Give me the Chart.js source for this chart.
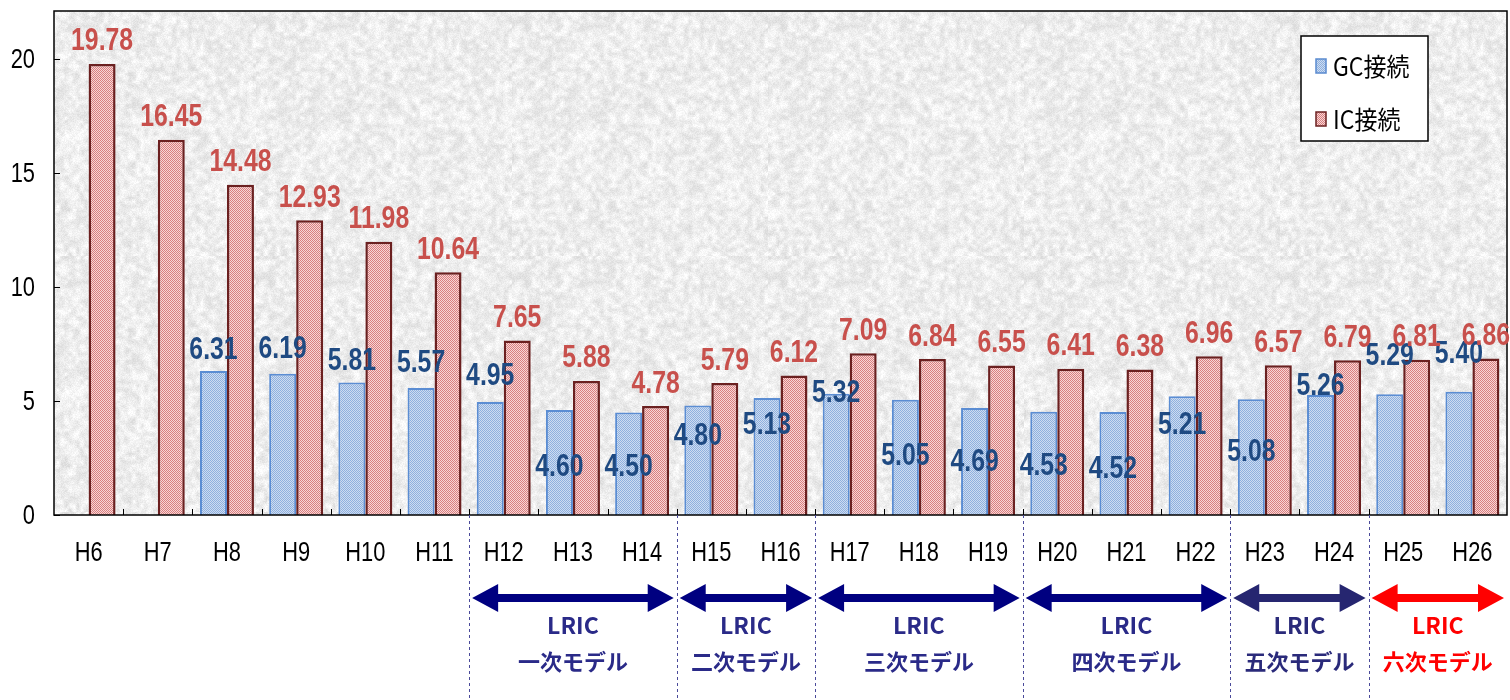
<!DOCTYPE html>
<html>
<head>
<meta charset="utf-8">
<script src="https://cdn.jsdelivr.net/npm/chart.js@4.4.0/dist/chart.umd.min.js"></script>
<style>
  html, body { margin: 0; padding: 0; background: #fff; }
</style>
</head>
<body>
<canvas id="chart" width="1510" height="700"></canvas>
<script>
// Datos del gráfico
const years = ['H6', 'H7', 'H8', 'H9', 'H10', 'H11', 'H12', 'H13', 'H14', 'H15', 'H16',
               'H17', 'H18', 'H19', 'H20', 'H21', 'H22', 'H23', 'H24', 'H25', 'H26'];
const gcValues = [null, null, 6.31, 6.19, 5.81, 5.57, 4.95, 4.60, 4.50, 4.80, 5.13,
                  5.32, 5.05, 4.69, 4.53, 4.52, 5.21, 5.08, 5.26, 5.29, 5.40];
const icValues = [19.78, 16.45, 14.48, 12.93, 11.98, 10.64, 7.65, 5.88, 4.78, 5.79, 6.12,
                  7.09, 6.84, 6.55, 6.41, 6.38, 6.96, 6.57, 6.79, 6.81, 6.86];
const yTicks = [0, 5, 10, 15, 20];
const seriesNames = ['GC接続', 'IC接続'];

// Periodos del modelo LRIC
const modelTitle = 'LRIC';
const modelNames = ['一次モデル', '二次モデル', '三次モデル', '四次モデル', '五次モデル', '六次モデル'];
const modelStart = ['H12', 'H15', 'H17', 'H20', 'H23', 'H25'];
const modelEnd = ['H14', 'H16', 'H19', 'H22', 'H24', 'H26'];

const SANS = '"Liberation Sans", "DejaVu Sans", sans-serif';
const GOTHIC = '"Noto Sans CJK JP", "DejaVu Sans", sans-serif';

const canvas = document.getElementById('chart');
const ctx = canvas.getContext('2d');

// Texto comprimido horizontalmente (fuente estrecha)
function narrowText(c, text, x, y, sx) {
    c.save();
    c.translate(x, y);
    c.scale(sx, 1);
    c.fillText(text, 0, 0);
    c.restore();
}

// Patrón a cuadros para las barras
function checker(c1, c2) {
    const p = document.createElement('canvas');
    p.width = 2; p.height = 2;
    const g = p.getContext('2d');
    g.fillStyle = c1; g.fillRect(0, 0, 2, 2);
    g.fillStyle = c2; g.fillRect(0, 0, 1, 1); g.fillRect(1, 1, 1, 1);
    return ctx.createPattern(p, 'repeat');
}

// Textura gris del fondo (hash determinista)
function hash(i, j) {
    let h = Math.imul(i, 374761393) + Math.imul(j, 668265263);
    h = Math.imul(h ^ (h >>> 13), 1274126177);
    h ^= h >>> 16;
    return (h >>> 0) / 4294967296;
}
function makeTexture() {
    const size = 256;
    const small = document.createElement('canvas');
    small.width = 64; small.height = 64;
    const sg = small.getContext('2d');
    for (let i = 0; i < 64; i++) {
        for (let j = 0; j < 64; j++) {
            const v = Math.round(222 + hash(i, j) * 32);
            sg.fillStyle = `rgb(${v},${v},${v})`;
            sg.fillRect(i, j, 1, 1);
        }
    }
    const big = document.createElement('canvas');
    big.width = size; big.height = size;
    const bg = big.getContext('2d');
    bg.imageSmoothingEnabled = true;
    bg.drawImage(small, 0, 0, size, size);
    const img = bg.getImageData(0, 0, size, size);
    for (let k = 0; k < img.data.length; k += 4) {
        const p = k / 4;
        const n = (hash(p % size + 1000, Math.floor(p / size) + 2000) - 0.5) * 16;
        img.data[k] += n; img.data[k + 1] += n; img.data[k + 2] += n;
    }
    bg.putImageData(img, 0, 0);
    return ctx.createPattern(big, 'repeat');
}

const gcFill = checker('#cddcf1', '#8fb0de');
const icFill = checker('#f7d6d6', '#d97f7f');
const bgTexture = makeTexture();

// Fondo, marco, marcas y etiquetas de los ejes
const plotFrame = {
    id: 'plotFrame',
    beforeDatasetsDraw(chart) {
        const a = chart.chartArea, c = chart.ctx;
        c.save();
        c.fillStyle = bgTexture;
        c.fillRect(a.left, a.top, a.right - a.left, a.bottom - a.top);
        c.restore();
    },
    afterDatasetsDraw(chart) {
        const a = chart.chartArea, c = chart.ctx;
        const x = chart.scales.x, y = chart.scales.y;
        c.save();
        c.strokeStyle = '#000';
        c.lineWidth = 1.5;
        c.strokeRect(a.left, a.top, a.right - a.left, a.bottom - a.top);
        c.lineWidth = 1;
        c.fillStyle = '#000';
        c.textBaseline = 'middle';
        // eje Y
        c.font = '28px ' + SANS;
        c.textAlign = 'right';
        yTicks.forEach(v => {
            const py = Math.round(y.getPixelForValue(v)) + 0.5;
            c.beginPath(); c.moveTo(a.left, py); c.lineTo(a.left + 6, py); c.stroke();
            narrowText(c, String(v), a.left - 19, py + 1, 0.78);
        });
        // eje X
        for (let i = 1; i < years.length; i++) {
            const px = Math.round((x.getPixelForValue(i - 1) + x.getPixelForValue(i)) / 2) + 0.5;
            c.beginPath(); c.moveTo(px, a.bottom); c.lineTo(px, a.bottom - 6); c.stroke();
        }
        c.textAlign = 'center';
        years.forEach((lab, i) => {
            narrowText(c, lab, x.getPixelForValue(i), 553, 0.78);
        });
        c.restore();
    }
};

// Etiquetas de valores
const barLabels = {
    id: 'barLabels',
    afterDatasetsDraw(chart, args, opts) {
        const c = chart.ctx;
        c.save();
        c.font = 'bold 31px ' + SANS;
        c.textAlign = 'center';
        c.textBaseline = 'middle';
        chart.data.datasets.forEach((ds, di) => {
            chart.getDatasetMeta(di).data.forEach((bar, i) => {
                const v = ds.data[i];
                if (v == null) return;
                const shift = di === 0 ? opts.gcShift[i] : -22;
                c.fillStyle = di === 0 ? '#1F4A82' : '#C8504C';
                narrowText(c, v.toFixed(2), bar.x, bar.y + shift, 0.8);
            });
        });
        c.restore();
    }
};

// Leyenda dentro del gráfico
const boxLegend = {
    id: 'boxLegend',
    afterDraw(chart) {
        const c = chart.ctx;
        c.save();
        c.fillStyle = '#ffffff';
        c.fillRect(1301, 36, 127, 105);
        c.strokeStyle = '#000';
        c.lineWidth = 1.5;
        c.strokeRect(1301, 36, 127, 105);
        const rows = [66, 119];
        const fills = [gcFill, icFill];
        const borders = ['#5A8ACF', '#6B2020'];
        chart.data.datasets.forEach((ds, i) => {
            c.fillStyle = fills[i];
            c.fillRect(1316, rows[i] - 7, 10, 14);
            c.strokeStyle = borders[i];
            c.lineWidth = 1.5;
            c.strokeRect(1316, rows[i] - 7, 10, 14);
            c.fillStyle = '#000';
            c.font = '25px ' + GOTHIC;
            c.textBaseline = 'middle';
            c.textAlign = 'left';
            narrowText(c, ds.label, 1333, rows[i], 0.92);
        });
        c.restore();
    }
};

// Flechas de los periodos LRIC
function drawArrow(c, x1, x2, y, color) {
    const head = 26, hh = 14, sh = 4;
    c.fillStyle = color;
    c.beginPath();
    c.moveTo(x1, y);
    c.lineTo(x1 + head, y - hh);
    c.lineTo(x1 + head, y - sh);
    c.lineTo(x2 - head, y - sh);
    c.lineTo(x2 - head, y - hh);
    c.lineTo(x2, y);
    c.lineTo(x2 - head, y + hh);
    c.lineTo(x2 - head, y + sh);
    c.lineTo(x1 + head, y + sh);
    c.lineTo(x1 + head, y + hh);
    c.closePath();
    c.fill();
}

const modelArrows = {
    id: 'modelArrows',
    afterDraw(chart, args, opts) {
        const c = chart.ctx, x = chart.scales.x, a = chart.chartArea;
        const half = (x.getPixelForValue(1) - x.getPixelForValue(0)) / 2;
        c.save();
        modelNames.forEach((name, k) => {
            const s = years.indexOf(modelStart[k]);
            const e = years.indexOf(modelEnd[k]);
            const left = x.getPixelForValue(s) - half;
            const right = Math.min(x.getPixelForValue(e) + half, a.right);
            const color = opts.colors[k];
            // línea punteada
            c.strokeStyle = '#4A4A9A';
            c.lineWidth = 1;
            c.setLineDash([3, 3]);
            c.beginPath();
            c.moveTo(Math.round(left) + 0.5, a.bottom);
            c.lineTo(Math.round(left) + 0.5, 700);
            c.stroke();
            c.setLineDash([]);
            drawArrow(c, left + 3, right - 3, 598, color);
            const mid = (left + right) / 2;
            c.fillStyle = opts.textColors[k];
            c.textAlign = 'center';
            c.textBaseline = 'middle';
            c.font = 'bold 23px ' + GOTHIC;
            c.fillText(modelTitle, mid, 625);
            c.font = 'bold 22px ' + GOTHIC;
            c.fillText(name, mid, 662);
        });
        c.restore();
    }
};

new Chart(ctx, {
    type: 'bar',
    data: {
        labels: years,
        datasets: [
            {
                label: seriesNames[0],
                data: gcValues,
                backgroundColor: gcFill,
                borderColor: '#5B8DD3',
                borderWidth: 2
            },
            {
                label: seriesNames[1],
                data: icValues,
                backgroundColor: icFill,
                borderColor: '#6B2020',
                borderWidth: 2.5
            }
        ]
    },
    options: {
        responsive: false,
        animation: false,
        layout: { padding: { top: 11, right: 3, left: 0, bottom: 0 } },
        datasets: {
            bar: { categoryPercentage: 0.78, barPercentage: 1.0 }
        },
        plugins: {
            legend: { display: false },
            tooltip: { enabled: false },
            barLabels: {
                gcShift: [0, 0, -21, -24, -21, -25, -26, 57, 55, 31, 27,
                          0, 57, 54, 55, 58, 29, 53, -9, -38, -37]
            },
            modelArrows: {
                colors: ['#000080', '#000080', '#000080', '#000080', '#262670', '#FF0000'],
                textColors: ['#2A2A88', '#2A2A88', '#2A2A88', '#2A2A88', '#2A2A7A', '#FF0000']
            }
        },
        scales: {
            x: {
                grid: { display: false, drawTicks: false },
                border: { display: false },
                ticks: { display: false },
                afterFit(scale) {
                    scale.height = 185;
                    scale.paddingLeft = 0; scale.paddingRight = 0;
                }
            },
            y: {
                min: 0,
                max: 22.1,
                grid: { display: false, drawTicks: false },
                border: { display: false },
                afterBuildTicks(scale) { scale.ticks = yTicks.map(v => ({ value: v })); },
                ticks: { display: false },
                afterFit(scale) {
                    scale.width = 54;
                    scale.paddingTop = 0; scale.paddingBottom = 0;
                }
            }
        }
    },
    plugins: [plotFrame, barLabels, boxLegend, modelArrows]
});
</script>
</body>
</html>
